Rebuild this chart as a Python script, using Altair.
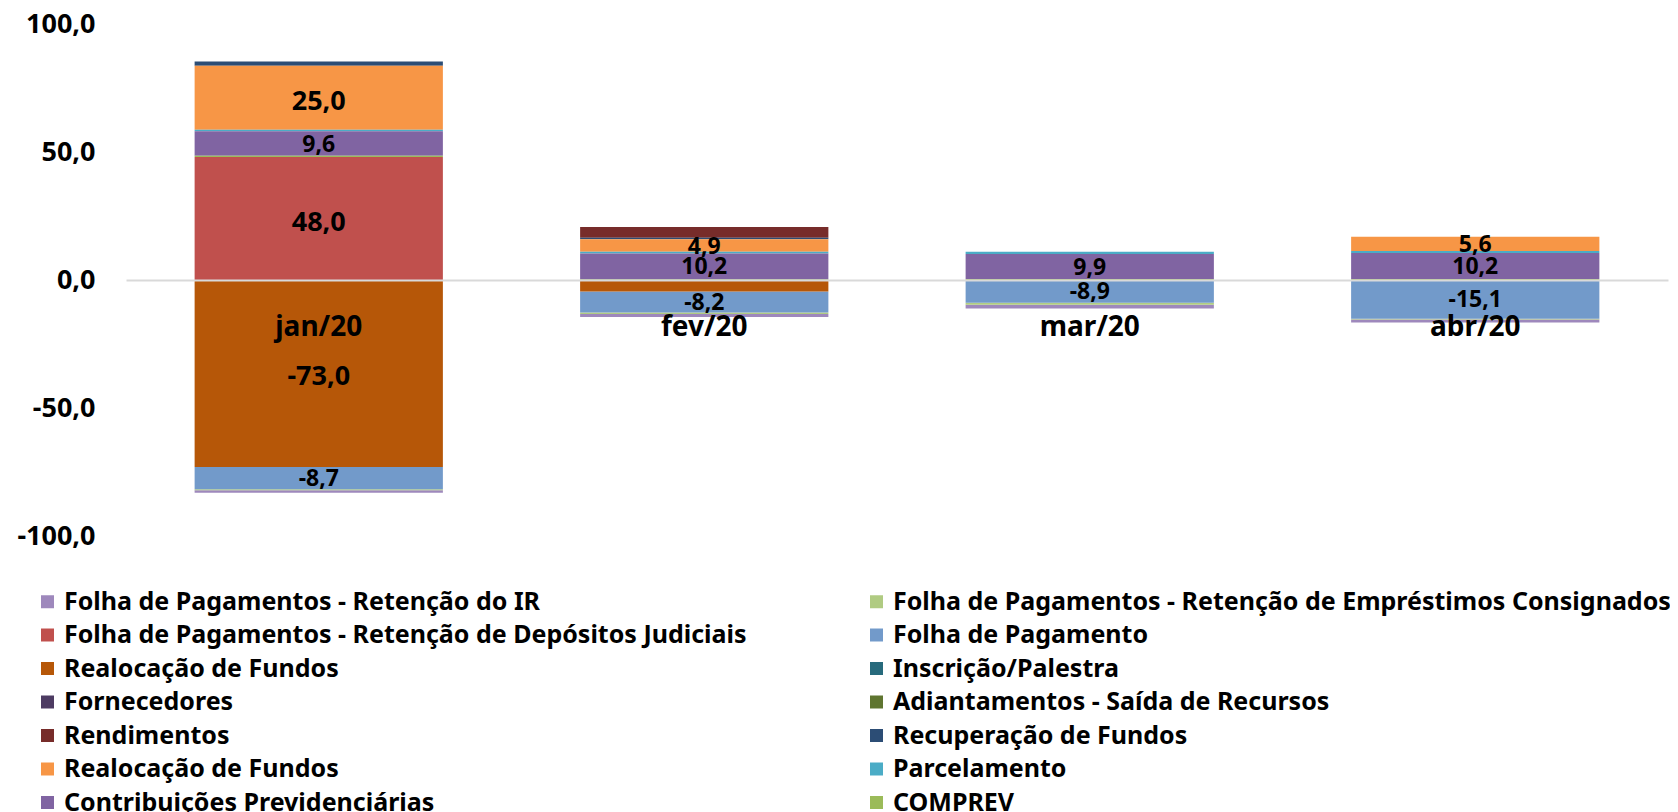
import altair as alt
import pandas as pd

months = ["jan/20", "fev/20", "mar/20", "abr/20"]

series = [
    "Folha de Pagamentos - Retenção do IR",
    "Folha de Pagamentos - Retenção de Empréstimos Consignados",
    "Folha de Pagamentos - Retenção de Depósitos Judiciais",
    "Folha de Pagamento",
    "Realocação de Fundos",
    "Inscrição/Palestra",
    "Fornecedores",
    "Adiantamentos - Saída de Recursos",
    "Rendimentos",
    "Recuperação de Fundos",
    "Realocação de Fundos ",
    "Parcelamento",
    "Contribuições Previdenciárias",
    "COMPREV",
]

colors = [
    "#9E88BC", "#B0CB82", "#C0504D", "#729ACA", "#B65708", "#276A7C", "#4D3B62",
    "#5F7530", "#772C2A", "#2C4D75", "#F79646", "#4BACC6", "#8064A2", "#9BBB59",
]

# stacking rank: lower = closer to zero
stack_rank = [4, 3, 0, 2, 1, 11, 12, 13, 10, 9, 8, 7, 6, 5]

ret_ir = [-1.0, -1.2, -1.4, -1.2]
ret_emprestimos = [-0.4, -0.6, -0.8, -0.3]
ret_depositos = [48.0, 0.0, 0.0, 0.0]
folha_pagamento = [-8.7, -8.2, -8.9, -15.1]
realocacao_saida = [-73.0, -4.5, 0.0, 0.0]
inscricao = [0.0, 0.0, 0.0, 0.0]
fornecedores = [0.0, 0.0, 0.0, 0.0]
adiantamentos = [0.0, 0.0, 0.0, 0.0]
rendimentos = [0.0, 4.2, 0.0, 0.0]
recuperacao = [1.7, 0.6, 0.0, 0.0]
realocacao_entrada = [25.0, 4.9, 0.0, 5.6]
parcelamento = [0.6, 0.6, 0.8, 0.8]
contribuicoes = [9.6, 10.2, 9.9, 10.2]
comprev = [0.5, 0.2, 0.3, 0.3]

y_ticks = [-100, -50, 0, 50, 100]

all_values = [
    ret_ir, ret_emprestimos, ret_depositos, folha_pagamento, realocacao_saida,
    inscricao, fornecedores, adiantamentos, rendimentos, recuperacao,
    realocacao_entrada, parcelamento, contribuicoes, comprev,
]

rows = []
for name, rank, vals in zip(series, stack_rank, all_values):
    for m, v in zip(months, vals):
        rows.append({"mes": m, "serie": name, "ordem": rank, "valor": v})
df = pd.DataFrame(rows)

# legend is filled column by column: reorder so it reads row by row like the reference
legend_domain = series[0::2] + series[1::2]
legend_range = colors[0::2] + colors[1::2]

FONT = "Noto Sans"
NUM_EXPR = "replace(replace(format({v}, '.1f'), '.', ','), '\u2212', '-')"

x_enc = alt.X(
    "mes:N",
    sort=months,
    scale=alt.Scale(paddingInner=0.356, paddingOuter=0.178),
    axis=alt.Axis(
        title=None,
        orient="bottom",
        offset=-256,
        domainColor="#D9D9D9",
        domainWidth=2,
        ticks=False,
        tickSize=0,
        labelAngle=0,
        labelFont=FONT,
        labelFontWeight="bold",
        labelFontSize=28,
        labelColor="black",
        labelBaseline="alphabetic",
        labelPadding=55,
        zindex=1,
    ),
)

y_scale = alt.Scale(domain=[-100, 100], nice=False, zero=True)

bars = alt.Chart(df).mark_bar(strokeWidth=0).encode(
    x=x_enc,
    y=alt.Y(
        "sum(valor):Q",
        stack="zero",
        scale=y_scale,
        axis=alt.Axis(
            title=None,
            values=y_ticks,
            grid=False,
            domain=False,
            ticks=False,
            tickSize=0,
            labelPadding=31,
            labelFont=FONT,
            labelFontWeight="bold",
            labelFontSize=27,
            labelColor="black",
            labelExpr=NUM_EXPR.format(v="datum.value"),
        ),
    ),
    color=alt.Color(
        "serie:N",
        scale=alt.Scale(domain=legend_domain, range=legend_range),
        sort=legend_domain,
        legend=alt.Legend(
            title=None,
            orient="none",
            legendX=-91,
            legendY=565,
            columns=2,
            direction="vertical",
            symbolType="square",
            symbolSize=169,
            symbolStrokeWidth=0,
            labelFont=FONT,
            labelFontWeight="bold",
            labelFontSize=25,
            labelColor="black",
            labelLimit=2000,
            labelOffset=4,
            rowPadding=7.5,
            columnPadding=117,
        ),
    ),
    order=alt.Order("ordem:Q", sort="ascending"),
)

label_base = (
    alt.Chart(df)
    .transform_stack(
        stack="valor",
        groupby=["mes"],
        sort=[alt.SortField("ordem", order="ascending")],
        as_=["v0", "v1"],
    )
    .transform_calculate(
        mid="(datum.v0 + datum.v1) / 2",
        rotulo=NUM_EXPR.format(v="datum.valor"),
    )
)

enc = dict(
    x=alt.X("mes:N", sort=months),
    y=alt.Y("mid:Q", scale=y_scale),
    text="rotulo:N",
)

labels_big = (
    label_base.transform_filter("abs(datum.valor) > 20")
    .mark_text(font=FONT, fontWeight="bold", color="black", baseline="middle",
               align="center", fontSize=27, dy=4)
    .encode(**enc)
)

labels_small = (
    label_base.transform_filter("abs(datum.valor) >= 4.8 && abs(datum.valor) <= 20")
    .mark_text(font=FONT, fontWeight="bold", color="black", baseline="middle",
               align="center", fontSize=23, dy=1)
    .encode(**enc)
)

chart = (
    alt.layer(bars, labels_big, labels_small)
    .properties(
        width=1542,
        height=512,
        padding={"left": 118, "top": 16, "right": 2, "bottom": 276},
        autosize=alt.AutoSizeParams(type="none"),
        background="white",
    )
    .configure_view(stroke=None)
)

chart.save("out.html", embed_options={"renderer": "svg", "actions": False})
